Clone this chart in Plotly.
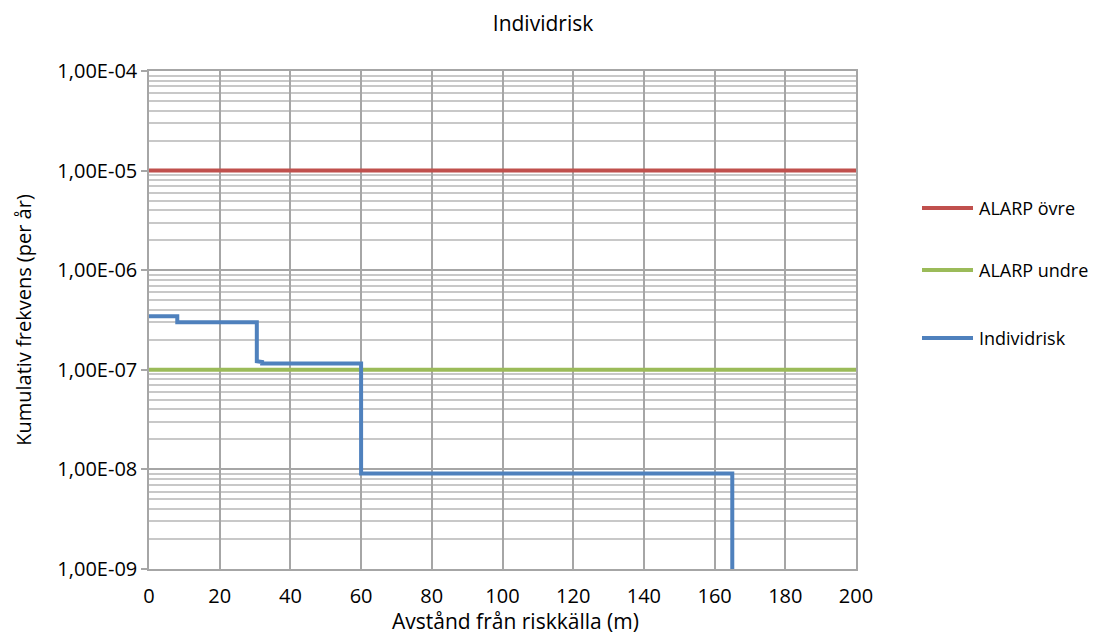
import plotly.graph_objects as go

# Data
x_range = [0, 200]
alarp_upper = [1e-5, 1e-5]
alarp_lower = [1e-7, 1e-7]
risk_x = [0, 8, 8, 30.5, 30.5, 32, 32, 60, 60, 165, 165]
risk_y = [3.45e-7, 3.45e-7, 3.0e-7, 3.0e-7, 1.22e-7, 1.2e-7, 1.16e-7, 1.16e-7, 9.1e-9, 9.1e-9, 1e-10]

series_names = ["ALARP övre", "ALARP undre", "Individrisk"]
series_colors = ["#C0504D", "#9BBB59", "#4F81BD"]

y_tickvals = [1e-9, 1e-8, 1e-7, 1e-6, 1e-5, 1e-4]
y_ticktext = ["1,00E-09", "1,00E-08", "1,00E-07", "1,00E-06", "1,00E-05", "1,00E-04"]
x_tickvals = list(range(0, 201, 20))

FONT = "Open Sans, sans-serif"
LW = 4

fig = go.Figure()
for xs, ys, name, col in [(x_range, alarp_upper, series_names[0], series_colors[0]),
                          (x_range, alarp_lower, series_names[1], series_colors[1]),
                          (risk_x, risk_y, series_names[2], series_colors[2])]:
    fig.add_trace(go.Scatter(x=xs, y=ys, mode="lines", name=name,
                             line=dict(color=col, width=LW), showlegend=False))

# page offset (body margin) of 8px
OFF = 8
L, T, PW, PH = 149 - OFF, 71 - OFF, 707, 498
W, H = 1097, 630
B = H - T - PH


def py_to_paper(py):
    """page pixel y -> paper fraction (relative to plot area)"""
    return (H - (py - OFF) - B) / PH


def px_to_paper(px):
    return (px - OFF - L) / PW


# manual legend (line samples + labels), positions in pixels of the page
legend_y = [208, 270, 338]
for name, col, py in zip(series_names, series_colors, legend_y):
    fig.add_shape(type="line", xref="paper", yref="paper",
                  x0=px_to_paper(922), x1=px_to_paper(973),
                  y0=py_to_paper(py), y1=py_to_paper(py),
                  line=dict(color=col, width=LW))
    fig.add_annotation(text=name, xref="paper", yref="paper",
                       x=px_to_paper(977), xanchor="left",
                       y=py_to_paper(py), yanchor="middle",
                       showarrow=False, font=dict(family=FONT, size=18, color="#000000"))

# x-axis title as annotation (keeps plot area fixed)
fig.add_annotation(text="Avstånd från riskkälla (m)", xref="paper", yref="paper",
                   x=px_to_paper(515), xanchor="center", y=py_to_paper(621), yanchor="middle",
                   showarrow=False, font=dict(family=FONT, size=21, color="#000000"))

fig.update_layout(
    width=W, height=H,
    margin=dict(l=L, r=W - L - PW, t=T, b=B),
    paper_bgcolor="white", plot_bgcolor="white",
    font=dict(family=FONT, size=20, color="#000000"),
    title=dict(text="Individrisk", x=(543 - OFF) / W, xanchor="center", y=1 - (24 - OFF) / H,
               yanchor="middle", font=dict(family=FONT, size=21)),
    showlegend=False,
    xaxis=dict(range=[0, 200], tickvals=x_tickvals, showgrid=True, gridcolor="#A6A6A6",
               gridwidth=1.5, showline=True, linecolor="#A6A6A6", linewidth=1.5,
               mirror=True, ticks="", zeroline=False, ticklabelstandoff=8, automargin=False),
    yaxis=dict(type="log", range=[-9, -4], tickvals=y_tickvals, ticktext=y_ticktext,
               showgrid=True, gridcolor="#A6A6A6", gridwidth=1.5,
               showline=True, linecolor="#A6A6A6", linewidth=1.5, mirror=True,
               ticks="outside", ticklen=6, tickcolor="#A6A6A6", tickwidth=1.5,
               zeroline=False, automargin=False,
               minor=dict(dtick="D1", showgrid=True, gridcolor="#C8C8C8", gridwidth=1.5, ticks=""),
               title=dict(text="Kumulativ frekvens (per år)", standoff=20,
                          font=dict(family=FONT, size=20))),
)

fig.write_html("out.html")
